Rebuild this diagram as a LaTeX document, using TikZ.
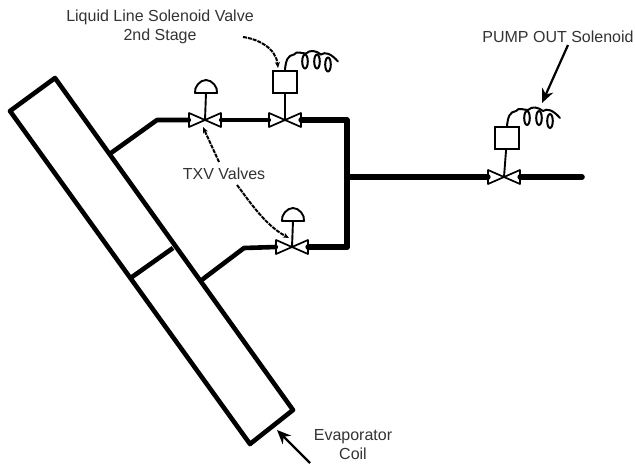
\documentclass[tikz,border=0pt]{standalone}
\usepackage{fontspec}
\setmainfont{Liberation Sans}
\usetikzlibrary{shapes.geometric, arrows.meta}
\usetikzlibrary{positioning}
\definecolor{labelgray}{HTML}{333333}
\tikzstyle{label} = [text=labelgray,
font=\fontsize{16}{18}\selectfont,
inner sep=0pt,
text centered]
\tikzstyle{valve} = [rectangle,
minimum width=32pt,
minimum height=16pt,
inner sep=0pt]
\tikzstyle{solbox} = [rectangle,
minimum width=24pt,
minimum height=22pt,
line width=2pt,
draw=black]
\tikzstyle{pipe} = [line width=5.6pt,line join=round,line cap=round]
\tikzstyle{thinpipe} = [line width=4.6pt,line join=round,line cap=round]
\tikzstyle{wall} = [line width=4.6pt,line join=round]
\tikzstyle{stem} = [line width=1.9pt]
\tikzstyle{arrow} = [line width=2.2pt,-{Stealth[length=14pt,width=12pt]}]
\tikzstyle{leader} = [line width=2pt,dash pattern=on 4pt off 1pt,-{Stealth[length=6pt,width=5pt]}]
\tikzset{
  bowtie/.pic={
    \draw [line width=1.7pt,line join=round] (-16,-7) -- (0,0) -- (-16,7) -- cycle;
    \draw [line width=1.7pt,line join=round] (16,-7) -- (0,0) -- (16,7) -- cycle;
  },
  dome/.pic={
    \draw [line width=1.9pt,line join=round] (-11,0) .. controls (-12,-6) and (-6,-13) .. (0,-13)
      .. controls (6,-13) and (12,-6) .. (11,0) -- cycle;
  },
  winding/.pic={
    \draw [line width=2pt,line cap=round] (0,0) .. controls (1,-10) and (3,-14) .. (9,-15)
      .. controls (12,-19) and (16,-16) .. (21,-16)
      .. controls (25,-20) and (31,-19) .. (36,-15)
      .. controls (40,-18) and (46,-16) .. (53,-8);
    \draw [line width=2pt] (20,-8) ellipse (2.8 and 7);
    \draw [line width=2pt] (32,-8) ellipse (2.8 and 7);
    \draw [line width=2pt] (43,-5) ellipse (2.8 and 7);
  }
}

\begin{document}
\begin{tikzpicture}[x=1pt,y=-1pt]
\useasboundingbox (0,0) rectangle (635,464);

% coil
\coordinate (coil_top) at (55,78);
\coordinate (coil_left) at (10,111);
\coordinate (coil_bottom) at (250,444);
\coordinate (coil_right) at (293,410);
\coordinate (split_a) at (132,277);
\coordinate (split_b) at (173,248);
\draw [wall] (coil_top) -- (coil_left) -- (coil_bottom) -- (coil_right) -- cycle;
\draw [wall] (split_a) -- (split_b);

% valves
\node (valve_txv_top) [valve] at (205,120) {};
\node (valve_sol) [valve] at (285,120) {};
\node (valve_txv_low) [valve] at (292,247) {};
\node (valve_pump) [valve] at (504,177) {};
\pic at (valve_txv_top.center) {bowtie};
\pic at (valve_sol.center) {bowtie};
\pic at (valve_txv_low.center) {bowtie};
\pic at (valve_pump.center) {bowtie};

% pipes
\coordinate (feed_top_a) at (111,153);
\coordinate (feed_top_b) at (157,120);
\coordinate (feed_low_a) at (203,279);
\coordinate (feed_low_b) at (244,248);
\coordinate (corner_top) at (347,120);
\coordinate (corner_low) at (347,247);
\coordinate (tee) at (347,177);
\coordinate (line_end) at (582,177);
\draw [thinpipe] (feed_top_a) -- (feed_top_b) -- (valve_txv_top.west);
\draw [thinpipe] (valve_txv_top.east) -- (valve_sol.west);
\draw [pipe] (valve_sol.east) -- (corner_top) -- (corner_low);
\draw [thinpipe] (feed_low_a) -- (feed_low_b) -- (valve_txv_low.west);
\draw [pipe] (valve_txv_low.east) -- (corner_low);
\draw [pipe] (tee) -- (valve_pump.west);
\draw [pipe] (valve_pump.east) -- (line_end);

% actuators
\node (box_sol) [solbox] at (285,81.5) {};
\node (box_pump) [solbox] at (507,138) {};
\coordinate (dome_top) at (206,93);
\coordinate (dome_low) at (293,221);
\pic at (dome_top) {dome};
\pic at (dome_low) {dome};
\draw [stem] (dome_top) -- (valve_txv_top.center);
\draw [stem] (dome_low) -- (valve_txv_low.center);
\draw [stem] (box_sol) -- (valve_sol.center);
\draw [stem] (box_pump) -- (valve_pump.center);
\pic at (box_sol.north) {winding};
\pic at (box_pump.north) {winding};

% labels
\node (lbl_sol_a) [label] at (160,17) {Liquid Line Solenoid Valve};
\node (lbl_sol_b) [label] at (160,36) {2nd Stage};
\node (lbl_pump) [label] at (558,37) {PUMP OUT Solenoid};
\node (lbl_txv) [label] at (224,174) {TXV Valves};
\node (lbl_evap_a) [label] at (353,437) {Evaporator};
\node (lbl_evap_b) [label] at (353,454) {Coil};

% pointers
\coordinate (sol_lead) at (243,37);
\coordinate (pump_lead) at (568,45);
\coordinate (pump_tip) at (542,103);
\coordinate (evap_lead) at (310,463);
\coordinate (evap_tip) at (277,430);
\coordinate (txv_tip_top) at (203,127);
\coordinate (txv_lead_top) at (219,162);
\coordinate (txv_lead_low) at (237,185);
\coordinate (txv_tip_low) at (289,238);
\draw [leader] (sol_lead) .. controls (258,39) and (276,48) .. (278,68);
\draw [leader] (txv_lead_top) -- (txv_tip_top);
\draw [leader] (txv_lead_low) .. controls (250,202) and (265,225) .. (txv_tip_low);
\draw [arrow] (pump_lead) -- (pump_tip);
\draw [arrow] (evap_lead) -- (evap_tip);

\end{tikzpicture}
\end{document}
